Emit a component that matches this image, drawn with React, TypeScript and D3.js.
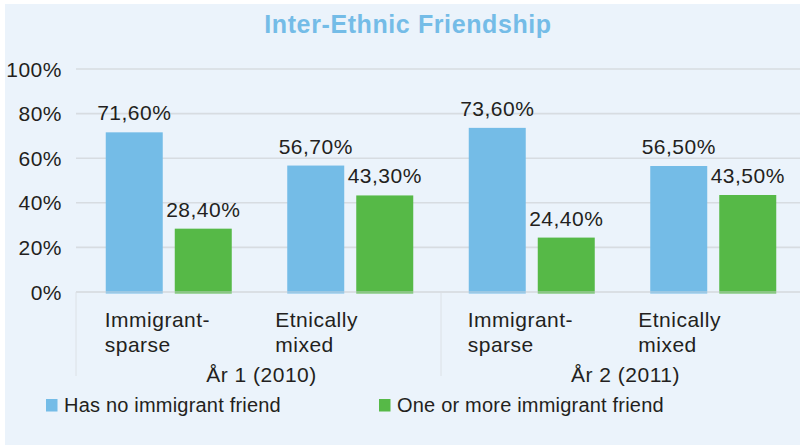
import React from "react";
import * as d3 from "d3";

// Chart data
const years = ["År 1 (2010)", "År 2 (2011)"];
const schoolTypes = [
  ["Immigrant-", "sparse"],
  ["Etnically", "mixed"],
];
const seriesNames = ["Has no immigrant friend", "One or more immigrant friend"];
const noFriend = [71.6, 56.7, 73.6, 56.5];
const oneOrMore = [28.4, 43.3, 24.4, 43.5];
const yTicks = [0, 20, 40, 60, 80, 100];

const W = 800;
const H = 445;
const BLUE = "#74BCE7";
const GREEN = "#56B947";
const BG = "#EBF3FB";
const GRID = "#D7DCE1";
const TEXT = "#231F20";
const FONT = "'Liberation Sans', Arial, Helvetica, sans-serif";

const fmt = (v: number) => v.toFixed(2).replace(".", ",") + "%";

export default function App() {
  const plotLeft = 78;
  const plotRight = 804;
  const yTop = 69;
  const yBottom = 292;

  const cats = d3.range(years.length * schoolTypes.length).map(String);
  const x = d3.scaleBand().domain(cats).range([plotLeft, plotRight]).padding(0);
  const sub = d3
    .scaleBand()
    .domain(["no", "one"])
    .range([-63, 63])
    .paddingInner(0.174)
    .paddingOuter(0);
  const y = d3.scaleLinear().domain([0, 100]).range([yBottom, yTop]);

  const values = [noFriend, oneOrMore];
  const colors = [BLUE, GREEN];
  const subKeys = ["no", "one"];
  const labelDx = [-64, -75];

  const center = (i: number) => (x(cats[i]) as number) + x.bandwidth() / 2;
  const yearEdges = d3.range(years.length + 1).map((k) =>
    k === 0 ? plotLeft - 2 : (x(cats[k * schoolTypes.length - 1]) as number) + x.bandwidth()
  );

  return (
    <svg
      width={W}
      height={H}
      style={{ position: "absolute", left: 0, top: 0, background: "#fff" }}
      fontFamily={FONT}
    >
      <rect x={5} y={4} width={W - 5} height={H - 4} fill={BG} />

      <text
        x={408}
        y={33}
        textAnchor="middle"
        fill={BLUE}
        fontSize={25}
        fontWeight="bold"
        letterSpacing={0.6}
      >
        Inter-Ethnic Friendship
      </text>

      {/* gridlines and y ticks */}
      {yTicks.map((t) => (
        <g key={t}>
          <line x1={plotLeft - 2} x2={W} y1={y(t)} y2={y(t)} stroke={GRID} strokeWidth={1.6} />
          <text
            x={62}
            y={y(t) + 7.5}
            textAnchor="end"
            fontSize={21}
            letterSpacing={0.5}
            fill={TEXT}
          >
            {t}%
          </text>
        </g>
      ))}

      {/* year group separators */}
      {yearEdges.map((ex, k) => (
        <line key={k} x1={ex} x2={ex} y1={yBottom} y2={376} stroke="#DCE1E6" strokeWidth={1} />
      ))}

      {/* bars */}
      {values.map((vals, s) =>
        vals.map((v, i) => {
          const bx = center(i) + (sub(subKeys[s]) as number);
          return (
            <g key={`${s}-${i}`}>
              <rect
                x={bx}
                y={y(v)}
                width={sub.bandwidth()}
                height={y(0) - y(v) + 1.5}
                fill={colors[s]}
              />
              <text
                x={bx + sub.bandwidth() / 2}
                y={y(v) - 12}
                textAnchor="middle"
                fontSize={21}
                letterSpacing={0.5}
                fill={TEXT}
              >
                {fmt(v)}
              </text>
            </g>
          );
        })
      )}
      <line x1={plotLeft - 2} x2={W} y1={y(0)} y2={y(0)} stroke={GRID} strokeWidth={1.2} opacity={0.8} />

      {/* category labels */}
      {cats.map((c, i) => {
        const t = i % schoolTypes.length;
        return (
          <text
            key={c}
            x={center(i) + labelDx[t]}
            fontSize={21}
            letterSpacing={0.5}
            fill={TEXT}
          >
            <tspan x={center(i) + labelDx[t]} y={327}>
              {schoolTypes[t][0]}
            </tspan>
            <tspan x={center(i) + labelDx[t]} y={352}>
              {schoolTypes[t][1]}
            </tspan>
          </text>
        );
      })}

      {/* year labels */}
      {years.map((yr, k) => (
        <text
          key={yr}
          x={(yearEdges[k] + yearEdges[k + 1]) / 2 + 3}
          y={382}
          textAnchor="middle"
          fontSize={21}
          letterSpacing={0.5}
          fill={TEXT}
        >
          {yr}
        </text>
      ))}

      {/* legend */}
      {seriesNames.map((name, s) => {
        const lx = s === 0 ? 46 : 379;
        return (
          <g key={name}>
            <rect x={lx} y={399} width={11.5} height={12.5} fill={colors[s]} />
            <text x={lx + 18} y={411.5} fontSize={20} letterSpacing={0.2} fill={TEXT}>
              {name}
            </text>
          </g>
        );
      })}
    </svg>
  );
}
